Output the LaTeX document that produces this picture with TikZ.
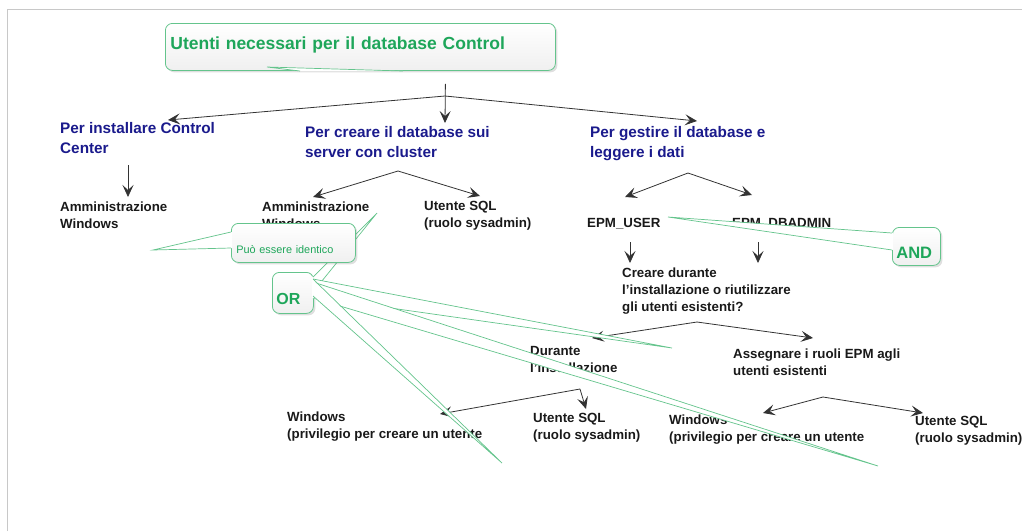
\documentclass[tikz,border=0pt]{standalone}
\usepackage{fontspec}
\setmainfont{Liberation Sans}
\usetikzlibrary{arrows.meta, shadows}
\definecolor{titlegreen}{RGB}{30,166,90}
\definecolor{boxgreen}{RGB}{100,196,140}
\definecolor{navy}{RGB}{26,26,140}
\definecolor{framegray}{RGB}{200,200,200}
\tikzset{
	headtext/.style={font=\bfseries\fontsize{15.3}{20}\selectfont, text=navy, align=left, anchor=west, inner sep=0pt},
	leaftext/.style={font=\bfseries\fontsize{13.3}{17}\selectfont, text=black!90, align=left, anchor=west, inner sep=0pt},
	arr/.style={-{Stealth[length=12pt,width=11pt,inset=5pt]}, draw=black!80, line width=0.8pt},
	bubble/.style={draw=boxgreen, line width=0.8pt, rounded corners=7pt, top color=white, bottom color=black!6, anchor=north west, align=left, text=titlegreen, drop shadow={opacity=0.25, shadow xshift=2pt, shadow yshift=-2pt}},
	tailline/.style={draw=boxgreen, line width=0.7pt}
}
\begin{document}
\begin{tikzpicture}[x=1pt, y=-1pt]
	\useasboundingbox (0,0) rectangle (1022,531);
	\draw[framegray, line width=1pt] (7,531) -- (7,9) -- (1022,9);

	\node[bubble, minimum width=390pt, minimum height=47pt, text width=380pt, inner xsep=5pt, inner ysep=3pt, text height=14pt, text depth=8pt, font=\bfseries\fontsize{17.5}{20}\selectfont] (title) at (165,23) {Utenti necessari per il database Control};
	\fill[white] (300,71) -- (267,67) -- (403,71) -- cycle;
	\draw[tailline] (300,71) -- (267,67) -- (403,71);

	\node[headtext] (inst) at (60,138) {Per installare Control\\Center};
	\node[headtext] (crea) at (305,142) {Per creare il database sui\\server con cluster};
	\node[headtext] (gest) at (590,144) {Per gestire il database e\\leggere i dati};

	\node[leaftext] (admA) at (60,215.5) {Amministrazione\\Windows};
	\node[leaftext] (admB) at (262,215.5) {Amministrazione\\Windows};
	\node[leaftext] (sqlA) at (424,215.5) {Utente SQL\\(ruolo sysadmin)};
	\node[leaftext] (epmU) at (587,224) {EPM\_USER};
	\node[leaftext] (epmD) at (732,224) {EPM\_DBADMIN};
	\node[leaftext] (ask) at (622,291) {Creare durante\\l’installazione o riutilizzare\\gli utenti esistenti?};
	\node[leaftext] (dur) at (530,359) {Durante\\l’installazione};
	\node[leaftext] (ass) at (733,362.5) {Assegnare i ruoli EPM agli\\utenti esistenti};
	\node[leaftext] (winA) at (287,427) {Windows\\(privilegio per creare un utente};
	\node[leaftext] (sqlB) at (533,427.5) {Utente SQL\\(ruolo sysadmin)};
	\node[leaftext] (winB) at (669,429.5) {Windows\\(privilegio per creare un utente};
	\node[leaftext] (sqlC) at (915,431) {Utente SQL\\(ruolo sysadmin)};

	\coordinate (root) at ([xshift=85pt, yshift=-13pt]title.south);
	\coordinate (split) at (445,96);
	\coordinate (csplit) at ([xshift=93pt, yshift=-29pt]crea.west);
	\coordinate (gsplit) at ([xshift=98pt, yshift=-29pt]gest.west);
	\coordinate (asplit) at ([xshift=75pt, yshift=-31pt]ask.west);
	\coordinate (dsplit) at ([xshift=50pt, yshift=-30pt]dur.west);
	\coordinate (esplit) at ([xshift=90pt, yshift=-34.5pt]ass.west);

	\draw[arr] (root) -- ([xshift=140pt, yshift=19pt]crea.west);
	\draw[arr] (split) -- ([xshift=108pt, yshift=18pt]inst.west);
	\draw[arr] (split) -- ([xshift=107pt, yshift=23pt]gest.west);
	\draw[arr] ([xshift=68pt, yshift=-27pt]inst.west) -- ([xshift=68pt, yshift=18.5pt]admA.west);
	\draw[arr] (csplit) -- ([xshift=51pt, yshift=18.5pt]admB.west);
	\draw[arr] (csplit) -- ([xshift=56pt, yshift=19.5pt]sqlA.west);
	\draw[arr] (gsplit) -- ([xshift=38pt, yshift=27pt]epmU.west);
	\draw[arr] (gsplit) -- ([xshift=20pt, yshift=29pt]epmD.west);
	\draw[arr] ([xshift=43pt, yshift=-18pt]epmU.west) -- ([xshift=8pt, yshift=28pt]ask.west);
	\draw[arr] ([xshift=26pt, yshift=-18pt]epmD.west) -- ([xshift=136pt, yshift=28pt]ask.west);
	\draw[arr] (asplit) -- ([xshift=62pt, yshift=21pt]dur.west);
	\draw[arr] (asplit) -- ([xshift=80pt, yshift=24.5pt]ass.west);
	\draw[arr] (dsplit) -- ([xshift=153pt, yshift=13pt]winA.west);
	\draw[arr] (dsplit) -- ([xshift=53pt, yshift=18.5pt]sqlB.west);
	\draw[arr] (esplit) -- ([xshift=94pt, yshift=16.5pt]winB.west);
	\draw[arr] (esplit) -- ([xshift=8pt, yshift=18pt]sqlC.west);

	\node[bubble, minimum width=41pt, minimum height=41pt, text width=33pt, inner xsep=4pt, inner ysep=3pt, text height=25pt, text depth=2pt, font=\bfseries\fontsize{16}{18}\selectfont] (or) at (272,272) {OR};
	\foreach \tip/\a/\b in {{(377,213)}/277/292, {(672,348)}/279/297, {(878,466)}/282/298, {(502,463)}/279/296} {
		\fill[white] (312,\a) -- \tip -- (312,\b) -- cycle;
		\draw[tailline] (313,\a) -- \tip -- (313,\b);
	}

	\node[bubble, minimum width=124pt, minimum height=39pt, text width=114pt, inner xsep=5pt, inner ysep=3pt, text height=24pt, text depth=3pt, font=\fontsize{10.9}{12}\selectfont] (ident) at (231,223) {Può essere identico};
	\fill[white] (232,232) -- (153,250) -- (232,248) -- cycle;
	\draw[tailline] (231,232) -- (153,250) -- (231,248);

	\node[bubble, minimum width=48pt, minimum height=38pt, text width=40pt, inner xsep=4pt, inner ysep=3pt, text height=26pt, text depth=2pt, font=\bfseries\fontsize{16.5}{18}\selectfont] (and) at (892,227) {AND};
	\fill[white] (893,233) -- (668,217) -- (893,250) -- cycle;
	\draw[tailline] (892,233) -- (668,217) -- (892,250);
\end{tikzpicture}
\end{document}
